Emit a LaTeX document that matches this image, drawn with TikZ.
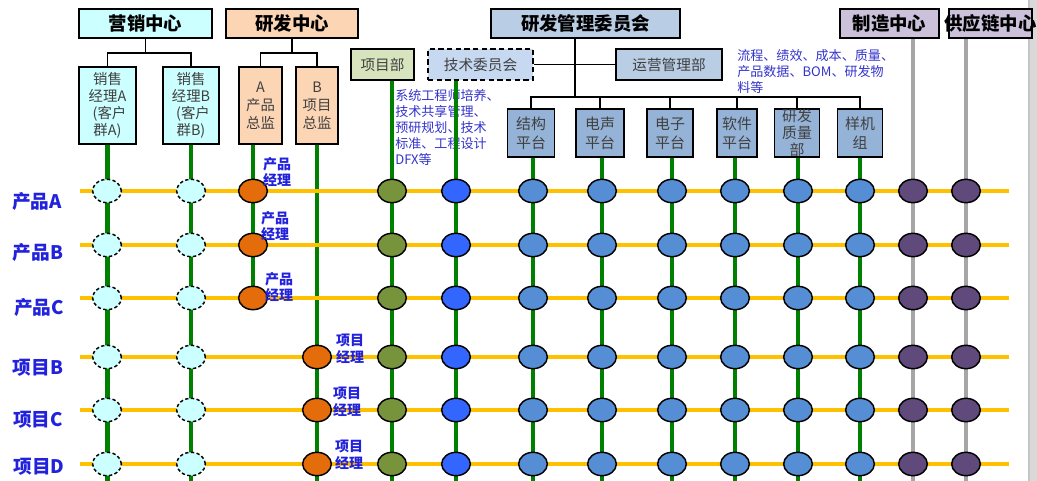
\documentclass[tikz,border=0pt]{standalone}
\usepackage{fontspec}
\setmainfont{Noto Sans CJK SC}
\usetikzlibrary{shapes.geometric}
\definecolor{ybar}{HTML}{FFC000}
\definecolor{gline}{HTML}{008000}
\definecolor{grline}{HTML}{A6A6A6}
\definecolor{cyanfill}{HTML}{CCFFFF}
\definecolor{peach}{HTML}{FCD5B5}
\definecolor{olivebox}{HTML}{D7E4BD}
\definecolor{lblue}{HTML}{C6D9F1}
\definecolor{mblue}{HTML}{B9CDE5}
\definecolor{pblue}{HTML}{95B3D7}
\definecolor{lpurple}{HTML}{CCC1DA}
\definecolor{orangec}{HTML}{E46C0A}
\definecolor{olivec}{HTML}{77933C}
\definecolor{brightb}{HTML}{3366FF}
\definecolor{midb}{HTML}{558ED5}
\definecolor{purplec}{HTML}{604A7B}
\definecolor{labblue}{HTML}{2222DD}
\definecolor{notblue}{HTML}{3333CC}
\definecolor{boxtext}{HTML}{404040}
\pgfdeclarelayer{bgt}
\pgfdeclarelayer{bgg}
\pgfdeclarelayer{bgy}
\pgfsetlayers{bgt,bgg,bgy,main}
\begin{document}
\begin{tikzpicture}[x=0.75pt,y=-0.75pt,
  bx/.style={draw=black, line width=1.1pt, inner sep=0pt, align=center},
  sz/.style 2 args={minimum width=#1*0.75pt, minimum height=#2*0.75pt},
  toptxt/.style={font=\fontsize{13.8pt}{16pt}\selectfont\bfseries},
  subtxt/.style={font=\fontsize{10.8pt}{12.9pt}\selectfont, text=boxtext, align=center},
  midtxt/.style={font=\fontsize{11pt}{13pt}\selectfont, text=boxtext},
  plattxt/.style={font=\fontsize{11.2pt}{14pt}\selectfont, text=boxtext, align=center},
  org/.style={draw=black, line width=1.1pt},
  gln/.style={draw=gline, line width=3.4pt},
  grl/.style={draw=grline, line width=3pt},
  yln/.style={draw=ybar, line width=3.6pt},
  cir/.style={ellipse, draw=black, line width=1.1pt, minimum width=21.5pt, minimum height=17.5pt, inner sep=0pt},
  cyc/.style={fill=cyanfill, dash pattern=on 2.5pt off 1.8pt},
  orc/.style={fill=orangec},
  olc/.style={fill=olivec},
  bbc/.style={fill=brightb},
  mbc/.style={fill=midb},
  puc/.style={fill=purplec},
  rowlab/.style={font=\fontsize{14pt}{16pt}\selectfont\bfseries, text=labblue},
  mgr/.style={font=\fontsize{10.5pt}{12.5pt}\selectfont\bfseries, text=labblue, align=center, inner sep=0pt},
  note/.style={font=\fontsize{9.8pt}{12pt}\selectfont, text=notblue, align=left, inner sep=0pt},
]
\useasboundingbox (0,0) rectangle (1037,481);
\fill[gray!30] (1028,0) rectangle (1037,481);
\fill[gray!45] (1028,0) rectangle (1030,481);
\coordinate (bot) at (0,481);

% top boxes
\node[bx, sz={133}{29}, fill=cyanfill, toptxt] (yx) at (145.5,23.5) {营销中心};
\node[bx, sz={132}{29}, fill=peach, toptxt] (yf) at (292,23.5) {研发中心};
\node[bx, sz={189}{29}, fill=mblue, toptxt] (gl) at (585.5,23.5) {研发管理委员会};
\node[bx, sz={99}{29}, fill=lpurple, toptxt] (zz) at (889.5,23.5) {制造中心};
\node[bx, sz={83}{29}, fill=lpurple] (gy) at (990.5,23.5) {};
\node[toptxt, inner sep=0pt] (gyt) at (gy.center) {供应链中心};

% sub boxes
\node[bx, sz={57}{77}, fill=cyanfill, subtxt] (sa) at (107.5,105.5) {销售\\经理A\\\hspace*{3pt}(客户\\群A)};
\node[bx, sz={56}{77}, fill=cyanfill, subtxt] (sb) at (191,105.5) {销售\\经理B\\\hspace*{3pt}(客户\\群B)};
\node[bx, sz={43}{77}, fill=peach, subtxt, font=\fontsize{10.8pt}{13.5pt}\selectfont] (pa) at (260.5,105.5) {A\\产品\\总监};
\node[bx, sz={42}{77}, fill=peach, subtxt, font=\fontsize{10.8pt}{13.5pt}\selectfont] (pb) at (317,105.5) {B\\项目\\总监};

% middle boxes
\node[bx, sz={63}{31}, fill=olivebox, midtxt] (xm) at (382.5,64.5) {项目部};
\node[bx, sz={105}{31}, fill=lblue, midtxt, dash pattern=on 4pt off 2.5pt] (js) at (480.5,64.5) {技术委员会};
\node[bx, sz={106}{31}, fill=mblue, midtxt] (yy) at (669,64.5) {运营管理部};

% platforms
\node[bx, sz={47}{48}, fill=pblue, plattxt] (p1) at (531,133) {结构\\平台};
\node[bx, sz={48}{48}, fill=pblue, plattxt] (p2) at (600,133) {电声\\平台};
\node[bx, sz={46}{48}, fill=pblue, plattxt] (p3) at (670,133) {电子\\平台};
\node[bx, sz={40}{48}, fill=pblue, plattxt] (p4) at (737,133) {软件\\平台};
\node[bx, sz={45}{48}, fill=pblue] (p5) at (797,133) {};
\node[plattxt, inner sep=0pt, font=\fontsize{11.2pt}{12.8pt}\selectfont] (p5t) at (p5.center) {研发\\质量\\部};
\node[bx, sz={45}{48}, fill=pblue, plattxt] (p6) at (860,133) {样机\\组};

% org connectors
\coordinate (yxbus) at (145.5,53);
\draw[org] (yx.south) -- (yxbus);
\draw[org] (sa.north) |- (yxbus) -| (sb.north);
\coordinate (yfbus) at (292,53);
\draw[org] (yf.south) -- (yfbus);
\draw[org] (pa.north) |- (yfbus) -| (pb.north);
\coordinate (trunk) at (575,97);
\draw[org] (gl.south -| trunk) -- (trunk);
\draw[org] (js.east) -- (yy.west);
\draw[org] (p1.north) |- (trunk) -| (p6.north);
\foreach \p in {p2,p3,p4,p5} \draw[org] (\p.north) -- (\p.north |- trunk);

% circles
\foreach \c/\x/\st in {sa/107/cyc, sb/191/cyc, xm/392/olc, js/456/bbc, p1/533/mbc, p2/602/mbc, p3/672/mbc, p4/735/mbc, p5/798/mbc, p6/860/mbc, zz/913/puc, gy/966/puc}
  \foreach \r/\y in {1/191,2/245,3/298,4/357,5/410,6/464}
    \node[cir,\st] (c-\c-\r) at (\x,\y) {};
\foreach \r/\y in {1/191,2/245,3/298}
  \node[cir,orc] (c-pa-\r) at (253,\y) {};
\foreach \r/\y in {4/357,5/410,6/464}
  \node[cir,orc] (c-pb-\r) at (317,\y) {};

% notes (under the vertical lines)
\begin{pgfonlayer}{bgt}
\node[note, anchor=north west] (n1) at (395,89) {系统工程师培养、\\技术共享管理、\\预研规划、技术\\标准、工程设计\\DFX等};
\end{pgfonlayer}
\node[note, anchor=north west] (n2) at (737,49) {流程、绩效、成本、质量、\\产品数据、BOM、研发物\\料等};

% vertical lines
\begin{pgfonlayer}{bgg}
\draw[gln] (sa.south) -- (sa.south |- bot);
\draw[gln] (sb.south) -- (sb.south |- bot);
\draw[gln] (c-pa-1 |- pa.south) -- (c-pa-3);
\draw[gln] (pb.south) -- (pb.south |- bot);
\draw[gln] (c-xm-1 |- xm.south) -- (c-xm-1 |- bot);
\draw[gln] (c-js-1 |- js.south) -- (c-js-1 |- bot);
\foreach \p in {p1,p2,p3,p4,p5,p6} \draw[gln] (c-\p-1 |- \p.south) -- (c-\p-1 |- bot);
\draw[grl] (c-zz-1 |- zz.south) -- (c-zz-1 |- bot);
\draw[grl] (c-gy-1 |- gy.south) -- (c-gy-1 |- bot);
\end{pgfonlayer}

% horizontal lines
\begin{pgfonlayer}{bgy}
\foreach \r/\y in {1/191,2/245,3/298,4/357,5/410,6/464}{
  \coordinate (L\r) at (80,\y);
  \coordinate (R\r) at (1009,\y);
  \draw[yln] (L\r) -- (R\r);
}
\end{pgfonlayer}

% row labels
\node[rowlab] (ra) at (37,201) {产品A};
\node[rowlab] (rb) at (38,252) {产品B};
\node[rowlab] (rc) at (39,307) {产品C};
\node[rowlab] (rd) at (38,368) {项目B};
\node[rowlab] (re) at (38,420) {项目C};
\node[rowlab] (rf) at (39,467) {项目D};

% manager labels
\node[mgr] (m1) at (277,172) {产品\\经理};
\node[mgr] (m2) at (275,226) {产品\\经理};
\node[mgr] (m3) at (279,287) {产品\\经理};
\node[mgr] (m4) at (350,349) {项目\\经理};
\node[mgr] (m5) at (347,402) {项目\\经理};
\node[mgr] (m6) at (349,455) {项目\\经理};
\end{tikzpicture}
\end{document}
